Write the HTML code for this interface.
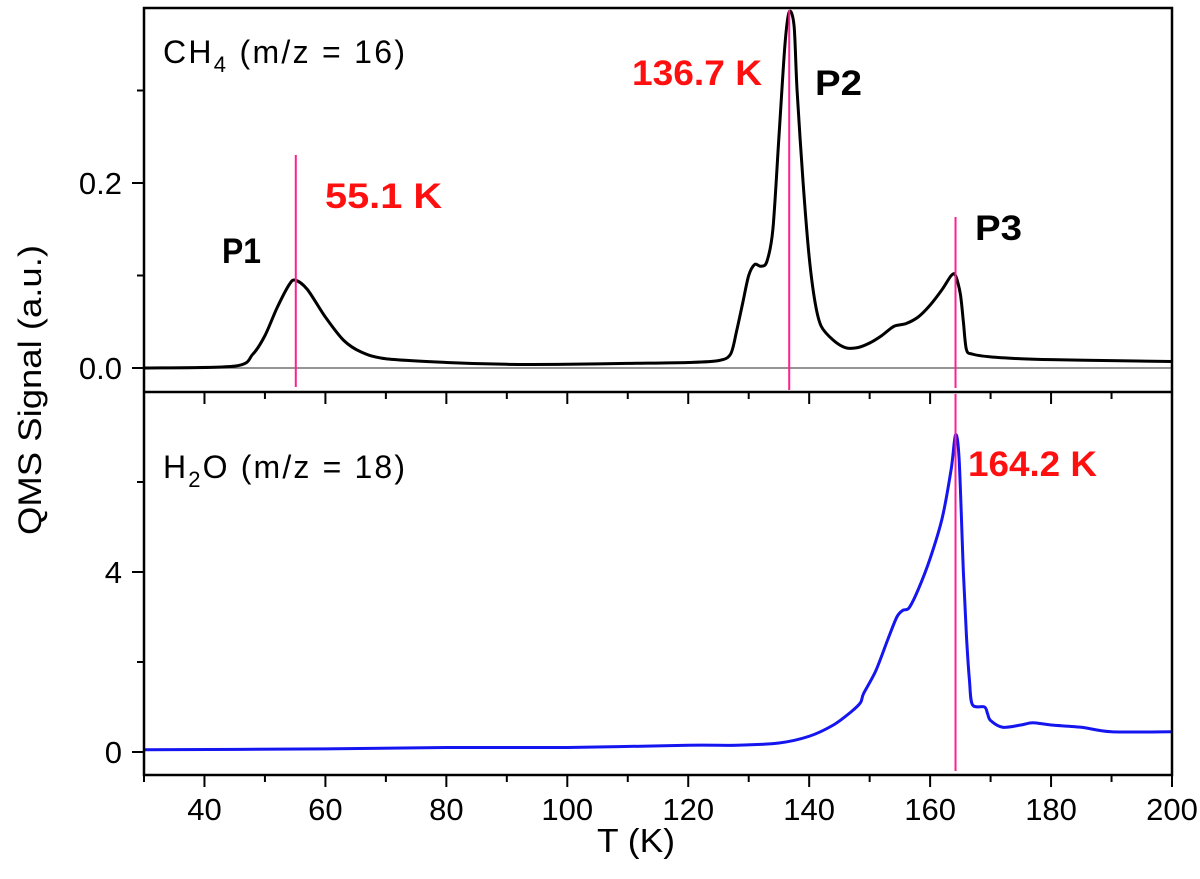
<!DOCTYPE html>
<html><head><meta charset="utf-8"><style>
body{margin:0;background:#fff}
text{font-family:"Liberation Sans",Arial,sans-serif}
</style></head><body>
<svg id="c" width="1200" height="874" xmlns="http://www.w3.org/2000/svg"></svg>
<script>
const ch4T=[30,45,48,50,52,54,55,57,60,63,66,70,80,90,100,110,120,125,127,128,129,130,131,132,133,134,135,136,136.7,137.5,138,139,140,141,142,144,146,148,150,152,154,156,158,160,162,163.5,164.2,165,165.5,166,167,170,175,180,190,200];
const ch4V=[0,0.002,0.015,0.035,0.065,0.09,0.095,0.085,0.055,0.03,0.017,0.01,0.006,0.004,0.004,0.005,0.006,0.008,0.015,0.04,0.07,0.1,0.112,0.11,0.115,0.15,0.25,0.35,0.385,0.37,0.3,0.2,0.12,0.07,0.045,0.03,0.022,0.022,0.027,0.035,0.045,0.048,0.055,0.068,0.085,0.1,0.1,0.08,0.05,0.02,0.015,0.012,0.01,0.009,0.008,0.007];
const h2oT=[30,60,80,100,120,128,135,140,144,147,148.5,149,151,153,154.5,155.5,156.5,158,160,162,163.5,164.2,164.8,165.5,166,166.5,167,169,169.5,170,172,175,177,180,185,190,200];
const h2oV=[0.05,0.07,0.1,0.1,0.15,0.15,0.2,0.35,0.6,0.9,1.1,1.3,1.8,2.5,3.0,3.15,3.2,3.6,4.3,5.2,6.3,7.05,6.5,4,2.6,1.6,1.05,1.0,0.85,0.7,0.55,0.6,0.65,0.6,0.55,0.45,0.45];
const xTicks=[40,60,80,100,120,140,160,180,200];
const topTicks=[0.0,0.2];const topTickLabels=["0.0","0.2"];
const botTicks=[0,4];const botTickLabels=["0","4"];
const peaks=[55.1,136.7,164.2];

const L=144,R=1172,T=8,M=392,B=775;
const x=t=>L+(t-30)*(R-L)/170;
const yTop=v=>368-v*925;
const yBot=v=>752-v*45;
const svg=document.getElementById('c');
const NS='http://www.w3.org/2000/svg';
function mk(tag,attrs,parent,txt){const e=document.createElementNS(NS,tag);for(const k in attrs)e.setAttribute(k,attrs[k]);if(txt!==undefined)e.textContent=txt;(parent||svg).appendChild(e);return e;}
function smooth(pts){let d='M'+pts[0][0]+','+pts[0][1];for(let i=0;i<pts.length-1;i++){const p0=pts[Math.max(0,i-1)],p1=pts[i],p2=pts[i+1],p3=pts[Math.min(pts.length-1,i+2)];const k=0.15;d+=' C'+(p1[0]+(p2[0]-p0[0])*k)+','+(p1[1]+(p2[1]-p0[1])*k)+' '+(p2[0]-(p3[0]-p1[0])*k)+','+(p2[1]-(p3[1]-p1[1])*k)+' '+p2[0]+','+p2[1];}return d;}

let e=mk('line',{x1:L,x2:R,y1:yTop(0),y2:yTop(0),stroke:'#555','stroke-width':1.2});



e=mk('path',{d:smooth(ch4T.map((t,i)=>[x(t),yTop(ch4V[i])])),fill:'none',stroke:'#000','stroke-width':3,'stroke-linejoin':'round'});


e=mk('path',{d:smooth(h2oT.map((t,i)=>[x(t),yBot(h2oV[i])])),fill:'none',stroke:'#1515f0','stroke-width':3,'stroke-linejoin':'round'});



e=mk('line',{x1:x(peaks[0]),x2:x(peaks[0]),y1:155,y2:387,stroke:'#ff1f8f','stroke-width':2});


e=mk('line',{x1:x(peaks[1]),x2:x(peaks[1]),y1:10,y2:390,stroke:'#ff1f8f','stroke-width':2});


e=mk('line',{x1:x(peaks[2]),x2:x(peaks[2]),y1:217,y2:388,stroke:'#ff1f8f','stroke-width':2});


e=mk('line',{x1:x(peaks[2]),x2:x(peaks[2]),y1:394,y2:771,stroke:'#ff1f8f','stroke-width':2});



e=mk('rect',{x:L,y:T,width:R-L,height:B-T,fill:'none',stroke:'#000','stroke-width':2.5});


e=mk('line',{x1:L,x2:R,y1:M,y2:M,stroke:'#000','stroke-width':2.5});



for(let t=30;t<=200;t+=10){
  const len=(t%20===0)?12:7;
  e=mk('line',{x1:x(t),x2:x(t),y1:B,y2:B+len,stroke:'#000','stroke-width':2});
  
  
  e=mk('line',{x1:x(t),x2:x(t),y1:M,y2:M+len,stroke:'#000','stroke-width':2});
  
  
}
xTicks.forEach(t=>{
  e=mk('text',{x:x(t),y:820,'font-size':31,'text-anchor':'middle'},svg,String(t));
  
  
});
[0,0.1,0.2,0.3].forEach(v=>{
  const major=topTicks.includes(v);
  e=mk('line',{x1:L-(major?12:7),x2:L,y1:yTop(v),y2:yTop(v),stroke:'#000','stroke-width':2});
  
  
});
topTicks.forEach((v,i)=>{
  e=mk('text',{x:L-22,y:yTop(v)+11,'font-size':31,'text-anchor':'end'},svg,topTickLabels[i]);
  
  
});
[0,2,4,6].forEach(v=>{
  const major=botTicks.includes(v);
  e=mk('line',{x1:L-(major?12:7),x2:L,y1:yBot(v),y2:yBot(v),stroke:'#000','stroke-width':2});
  
  
});
botTicks.forEach((v,i)=>{
  e=mk('text',{x:L-22,y:yBot(v)+11,'font-size':31,'text-anchor':'end'},svg,botTickLabels[i]);
  
  
});

e=mk('text',{x:597,y:852,'font-size':33,textLength:78,lengthAdjust:'spacingAndGlyphs'},svg,'T (K)');


e=mk('text',{x:0,y:0,'font-size':32,'text-anchor':'middle',textLength:290,lengthAdjust:'spacingAndGlyphs',transform:'translate(41,390) rotate(-90)'},svg,'QMS Signal (a.u.)');



e=mk('text',{x:163,y:63,'font-size':32,textLength:242,lengthAdjust:'spacing'});


e.innerHTML='CH<tspan dy="9" font-size="22">4</tspan><tspan dy="-9"> (m/z = 16)</tspan>';
e=mk('text',{x:163,y:478,'font-size':32,textLength:242,lengthAdjust:'spacing'});


e.innerHTML='H<tspan dy="9" font-size="22">2</tspan><tspan dy="-9">O (m/z = 18)</tspan>';

const ann=[['P1',222,263,'#000','label-p1',39],['55.1 K',325,208,'#ff1010','label-55-1k',117],['136.7 K',632,85,'#ff1010','label-136-7k',130],['P2',815,95,'#000','label-p2',47],['P3',975,240,'#000','label-p3',47],['164.2 K',968,476,'#ff1010','label-164-2k',129]];
ann.forEach(a=>{
  e=mk('text',{x:a[1],y:a[2],'font-size':35,'font-weight':'bold',fill:a[3],textLength:a[5],lengthAdjust:'spacingAndGlyphs'},svg,a[0]);
  
  
});
</script>
</body></html>
